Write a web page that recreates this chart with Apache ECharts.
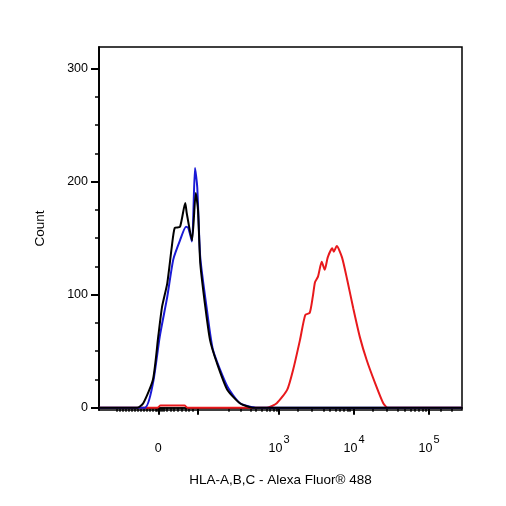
<!DOCTYPE html>
<html><head><meta charset="utf-8">
<script src="https://cdn.jsdelivr.net/npm/echarts@6/dist/echarts.min.js"></script>
<style>html,body{margin:0;padding:0;background:#fff}#c{width:506px;height:506px}</style>
</head><body><div id="c"></div>
<script>
// x in display units (biexponential): 3 = 10^3, 4 = 10^4, 5 = 10^5
const blackX = [0.6,1.11,1.19,1.32,1.39,1.44,1.51,1.57,1.61,1.68,1.75,1.77,1.84,1.89,1.92,1.95,2.01,2.08,2.17,2.31,2.48,2.65,5.44];
const blackY = [0,0,4,25,63,89,110,142,159,160,181,172,148,190,175,128,93,60,40,16,4,0,0];
const blueX = [0.6,1.21,1.32,1.41,1.51,1.59,1.68,1.76,1.79,1.84,1.88,1.91,1.95,2.04,2.12,2.31,2.48,2.71,5.44];
const blueY = [0,0,22,63,98,131,148,160,159,147,212,195,133,86,51,19,4,0,0];
const redX = [0.6,1.38,1.42,1.74,1.78,2.84,2.97,3.11,3.19,3.28,3.35,3.41,3.45,3.48,3.52,3.57,3.61,3.65,3.71,3.73,3.77,3.84,3.91,3.99,4.08,4.17,4.28,4.39,4.45,5.44];
const redY = [0,0,2,2,0,0,4,16,34,60,82,84,98,111,116,129,122,133,141,138,143,133,113,88,62,42,22,4,0,0];
const xMajorTicks = [1.39,1.92,3,4,5];
const xLabelValues = [1.39,3,4,5];
const xLabelText = ['0','10^3','10^4','10^5'];
const xMinorTicks = [0.84,0.88,0.92,0.96,1.0,1.04,1.08,1.12,1.16,1.2,1.24,1.28,1.32,1.35,1.37,1.41,1.43,1.46,1.5,1.55,1.6,1.65,1.7,1.75,1.8,1.85,2.33,2.49,2.62,2.69,2.77,2.83,2.88,2.93,2.97,
  3.25,3.44,3.59,3.68,3.75,3.81,3.86,3.91,3.95,4.25,4.44,4.59,4.68,4.75,4.81,4.86,4.91,4.95,5.15,5.31];
const yMajorTicks = [0,100,200,300];
const yMinorTicks = [25,50,75,125,150,175,225,250,275];
const zip=(a,b)=>a.map((v,i)=>[v,b[i]]);
const font='"Liberation Sans", Arial, sans-serif';
const xMin=0.6,xMax=5.44,yMin=-2,yMax=319;
const chart=echarts.init(document.getElementById('c'));
const baseX={type:'value',min:xMin,max:xMax,gridIndex:0,position:'bottom',splitLine:{show:false},axisLine:{show:true,lineStyle:{color:'#000',width:1.5}}};
const baseY={type:'value',min:yMin,max:yMax,gridIndex:0,position:'left',splitLine:{show:false},axisLine:{show:true,lineStyle:{color:'#000',width:1.5}}};
chart.setOption({
  animation:false,
  grid:{left:99,top:47,width:363,height:363,show:true,borderColor:'#000',borderWidth:1.5,backgroundColor:'#fff'},
  xAxis:[
    Object.assign({},baseX,{
      name:'HLA-A,B,C - Alexa Fluor® 488',nameLocation:'middle',nameGap:63,
      nameTextStyle:{fontFamily:font,fontSize:13.5,color:'#000'},
      axisTick:{show:true,length:7,lineStyle:{color:'#000',width:2},customValues:xMajorTicks},
      axisLabel:{show:true,margin:24,customValues:xLabelValues,
        formatter:v=>{const i=xLabelValues.findIndex(x=>Math.abs(x-v)<1e-6);const t=xLabelText[i]||'';
          if(t.indexOf('^')>0){const p=t.split('^');return '{b|'+p[0]+'}{s|'+p[1]+'}';}return '{b|'+t+'}';},
        rich:{b:{fontFamily:font,fontSize:12.5,color:'#000',padding:[8,0,0,0]},s:{fontFamily:font,fontSize:11,color:'#000',verticalAlign:'top',padding:[0,0,10,1]}}}
    }),
    Object.assign({},baseX,{axisLabel:{show:false},axisTick:{show:true,length:4,lineStyle:{color:'#000',width:1.5},customValues:xMinorTicks}})
  ],
  yAxis:[
    Object.assign({},baseY,{
      name:'Count',nameLocation:'middle',nameGap:52,nameRotate:90,
      nameTextStyle:{fontFamily:font,fontSize:13.5,color:'#000'},
      axisTick:{show:true,length:8,lineStyle:{color:'#000',width:2},customValues:yMajorTicks},
      axisLabel:{show:true,margin:11,fontFamily:font,fontSize:12.5,color:'#000',customValues:yMajorTicks}
    }),
    Object.assign({},baseY,{axisLabel:{show:false},axisTick:{show:true,length:4,lineStyle:{color:'#000',width:1.5},customValues:yMinorTicks}})
  ],
  series:[
    {type:'line',data:zip(redX,redY),showSymbol:false,smooth:0.2,lineStyle:{color:'#e8191c',width:2},z:2},
    {type:'line',data:zip(blueX,blueY),showSymbol:false,smooth:0.2,lineStyle:{color:'#1a1ad6',width:2},z:3},
    {type:'line',data:zip(blackX,blackY),showSymbol:false,smooth:0.2,lineStyle:{color:'#000',width:2},z:4}
  ]
});
</script></body></html>
